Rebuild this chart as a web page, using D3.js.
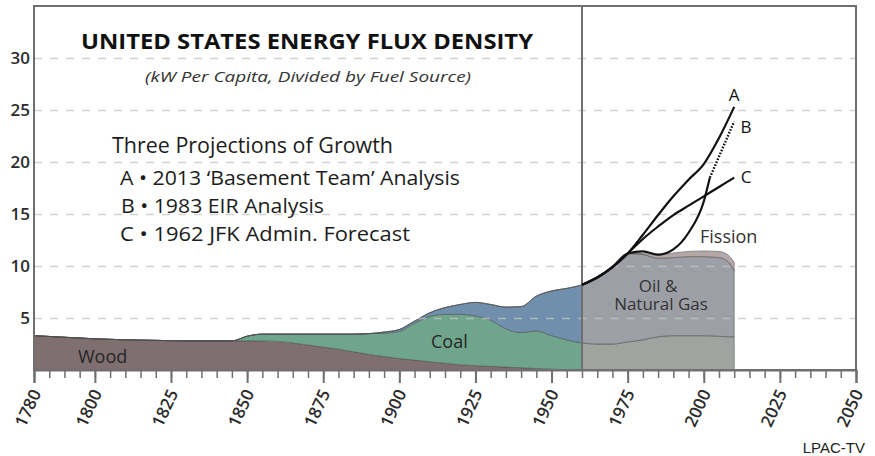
<!DOCTYPE html>
<html>
<head>
<meta charset="utf-8">
<script src="https://cdn.jsdelivr.net/npm/d3@7"></script>
<style>
body { margin: 0; background: #fff; }
svg { display: block; font-family: "Open Sans", "Noto Sans", sans-serif; }
</style>
</head>
<body>
<div id="chart"></div>
<script>
// values (kW per capita, layer thickness)
var years = [1780, 1790, 1800, 1810, 1820, 1830, 1840,
  1845, 1850, 1855, 1860, 1865, 1870, 1875, 1880, 1885, 1890, 1895, 1900,
  1905, 1910, 1915, 1920, 1925, 1930, 1935, 1940, 1945, 1950, 1955, 1960,
  1965, 1970, 1975, 1980, 1985, 1990, 1995, 2000, 2005, 2008, 2010];
var wood = [3.3, 3.15, 3.0, 2.9, 2.85, 2.8, 2.8,
  2.8, 2.8, 2.8, 2.75, 2.6, 2.4, 2.2, 2.0, 1.75, 1.5, 1.3, 1.1,
  0.95, 0.8, 0.65, 0.5, 0.42, 0.35, 0.28, 0.22, 0.15, 0.08, 0.03, 0,
  0, 0, 0, 0, 0, 0, 0, 0, 0, 0, 0];
var coal = [0, 0, 0, 0, 0, 0, 0,
  0, 0.45, 0.65, 0.7, 0.85, 1.05, 1.25, 1.45, 1.7, 2.0, 2.25, 2.6,
  3.55, 4.35, 4.7, 4.85, 4.78, 4.45, 3.67, 3.38, 3.6, 3.22, 2.87, 2.6,
  2.5, 2.5, 2.7, 2.9, 3.2, 3.3, 3.3, 3.3, 3.25, 3.2, 3.2];
var oilGas = [0, 0, 0, 0, 0, 0, 0,
  0, 0, 0, 0, 0, 0, 0, 0, 0, 0, 0.1, 0.2,
  0.2, 0.35, 0.65, 0.95, 1.3, 1.5, 2.1, 2.5, 3.35, 4.3, 4.95, 5.6,
  6.4, 7.4, 8.5, 8.2, 7.55, 7.5, 7.6, 7.6, 7.55, 7.2, 6.3];
var fission = [0, 0, 0, 0, 0, 0, 0,
  0, 0, 0, 0, 0, 0, 0, 0, 0, 0, 0, 0,
  0, 0, 0, 0, 0, 0, 0, 0, 0, 0, 0, 0,
  0, 0, 0, 0.1, 0.3, 0.45, 0.5, 0.55, 0.6, 0.65, 0.85];

// growth projections
var projYears = [1960, 1965, 1970, 1975, 1980, 1985, 1990, 1995, 2000, 2005, 2010];
var projA = [8.2, 8.9, 9.9, 11.2, 13.0, 14.9, 16.7, 18.3, 19.8, 22.3, 25.3];
var projC = [8.2, 8.9, 9.9, 11.2, 12.6, 13.8, 14.9, 15.8, 16.7, 17.6, 18.5];
var projBYears = [1960, 1965, 1970, 1975, 1980, 1985, 1990, 1995, 2000, 2002];
var projB = [8.2, 8.9, 9.9, 11.2, 11.4, 11.1, 11.6, 13.2, 16.2, 18.5];
var projBDotYears = [2002, 2010];
var projBDot = [18.5, 23.9];

var yTicks = [5, 10, 15, 20, 25, 30];
var xMajor = [1780, 1800, 1825, 1850, 1875, 1900, 1925, 1950, 1975, 2000, 2025, 2050];
var xMinor = d3.range(1780, 2051, 5);

var keys = ["wood", "coal", "oilGas", "fission"];
var colorsBefore = { wood: "#806f71", coal: "#70a58d", oilGas: "#6f8fad", fission: "#6f8fad" };
var colorsAfter = { wood: "#9fa3a0", coal: "#9fa4a0", oilGas: "#9c9fa6", fission: "#b4a7a8" };

var width = 875, height = 456;
var plotL = 34, plotR = 856, plotT = 6, plotB = 370;
var splitYear = 1960;

var table = years.map(function(yr, i) {
  return { year: yr, wood: wood[i], coal: coal[i], oilGas: oilGas[i], fission: fission[i] };
});

var x = d3.scaleLinear().domain([1780, 2050]).range([plotL, plotR]);
var y = d3.scaleLinear().domain([0, 35]).range([plotB, plotT]);

var svg = d3.select("#chart")
  .append("svg")
  .attr("width", width)
  .attr("height", height);

var defs = svg.append("defs");
defs.append("clipPath").attr("id", "before")
  .append("rect")
  .attr("x", plotL).attr("y", plotT)
  .attr("width", x(splitYear) - plotL).attr("height", plotB - plotT);
defs.append("clipPath").attr("id", "after")
  .append("rect")
  .attr("x", x(splitYear)).attr("y", plotT)
  .attr("width", plotR - x(splitYear)).attr("height", plotB - plotT);

var series = d3.stack().keys(keys)(table);

var area = d3.area()
  .curve(d3.curveMonotoneX)
  .x(function(d) { return x(d.data.year); })
  .y0(function(d) { return y(d[0]); })
  .y1(function(d) { return y(d[1]); });

function drawLayers(clipId, colors, rows) {
  var g = svg.append("g").attr("clip-path", "url(#" + clipId + ")");
  g.selectAll("path")
    .data(series)
    .join("path")
    .attr("d", function(s) {
      return area(s.filter(function(d) { return rows(d.data.year); }));
    })
    .attr("fill", function(s) { return colors[s.key]; })
    .attr("stroke", "#4f4f4f")
    .attr("stroke-opacity", 0.55)
    .attr("stroke-width", 1);
}
drawLayers("before", colorsBefore, function(yr) { return yr <= splitYear + 5; });
drawLayers("after", colorsAfter, function(yr) { return yr >= splitYear; });

// dashed gridlines
var grid = svg.append("g")
  .attr("transform", "translate(" + plotL + ",0)")
  .call(d3.axisLeft(y).tickValues(yTicks).tickSize(-(plotR - plotL)).tickFormat(""));
grid.select(".domain").remove();
grid.selectAll("line")
  .attr("stroke", "#c4c4c4")
  .attr("stroke-opacity", 0.75)
  .attr("stroke-width", 1.5)
  .attr("stroke-dasharray", "8,8");

// y labels
var yAxis = svg.append("g")
  .attr("transform", "translate(" + plotL + ",0)")
  .call(d3.axisLeft(y).tickValues(yTicks).tickSize(0).tickPadding(4));
yAxis.select(".domain").remove();
yAxis.selectAll("text")
  .attr("font-family", "Open Sans")
  .attr("font-size", 17)
  .attr("font-weight", 600)
  .attr("fill", "#2b2b2b");

// x axis: minor and major ticks
var xMinorAxis = svg.append("g")
  .attr("transform", "translate(0," + plotB + ")")
  .call(d3.axisBottom(x).tickValues(xMinor).tickSize(8).tickFormat(""));
xMinorAxis.select(".domain").remove();
xMinorAxis.selectAll("line").attr("stroke", "#6f6f6f").attr("stroke-width", 1.5);

var xAxis = svg.append("g")
  .attr("transform", "translate(0," + plotB + ")")
  .call(d3.axisBottom(x).tickValues(xMajor).tickSize(13).tickFormat(d3.format("d")));
xAxis.select(".domain").attr("stroke", "#6f6f6f").attr("stroke-width", 2);
xAxis.selectAll("line").attr("stroke", "#6f6f6f").attr("stroke-width", 2);
xAxis.selectAll("text")
  .attr("font-family", "Open Sans")
  .attr("font-size", 17)
  .attr("font-weight", 600)
  .attr("fill", "#2b2b2b")
  .attr("text-anchor", "end")
  .attr("x", 0).attr("y", 0).attr("dy", 0)
  .attr("transform", "translate(7,23) rotate(-65)");

// frame and 1960 divider
svg.append("rect")
  .attr("x", plotL).attr("y", plotT)
  .attr("width", plotR - plotL).attr("height", plotB - plotT)
  .attr("fill", "none")
  .attr("stroke", "#6f6f6f")
  .attr("stroke-width", 2);
svg.append("line")
  .attr("x1", x(splitYear)).attr("x2", x(splitYear))
  .attr("y1", plotT).attr("y2", plotB)
  .attr("stroke", "#6f6f6f")
  .attr("stroke-width", 2);

// projection lines
function pts(xs, vs) {
  return xs.map(function(yr, i) { return [yr, vs[i]]; });
}
var line = d3.line()
  .curve(d3.curveMonotoneX)
  .x(function(d) { return x(d[0]); })
  .y(function(d) { return y(d[1]); });

[pts(projYears, projA), pts(projYears, projC), pts(projBYears, projB)].forEach(function(p) {
  svg.append("path")
    .attr("d", line(p))
    .attr("fill", "none")
    .attr("stroke", "#111")
    .attr("stroke-width", 2.2);
});
svg.append("path")
  .attr("d", line(pts(projBDotYears, projBDot)))
  .attr("fill", "none")
  .attr("stroke", "#111")
  .attr("stroke-width", 2.4)
  .attr("stroke-dasharray", "1.6,1.6");

function label(txt, px, py, size, opts) {
  opts = opts || {};
  var t = svg.append("text")
    .attr("x", px).attr("y", py)
    .attr("font-size", size)
    .attr("fill", opts.fill || "#2b2b2b")
    .attr("text-anchor", opts.anchor || "start")
    .text(txt);
  if (opts.weight) t.attr("font-weight", opts.weight);
  if (opts.style) t.attr("font-style", opts.style);
  if (opts.family) t.attr("font-family", opts.family);
  if (opts.len) t.attr("textLength", opts.len).attr("lengthAdjust", "spacingAndGlyphs");
  return t;
}

label("A", 734, 101, 17, { anchor: "middle", fill: "#111" });
label("B", 746, 133, 17, { anchor: "middle", fill: "#111" });
label("C", 746, 183, 17, { anchor: "middle", fill: "#111" });

label("UNITED STATES ENERGY FLUX DENSITY", 81, 48.5, 22, { weight: "bold", fill: "#111", len: 452 });
label("(kW Per Capita, Divided by Fuel Source)", 145, 82, 15, { style: "italic", fill: "#333", len: 326 });
label("Three Projections of Growth", 112, 153, 21, { fill: "#1c1c1c", len: 281 });
label("A \u2022 2013 \u2018Basement Team\u2019 Analysis", 120, 184.5, 19.5, { fill: "#1c1c1c", len: 340 });
label("B \u2022 1983 EIR Analysis", 121, 213, 19.5, { fill: "#1c1c1c", len: 203 });
label("C \u2022 1962 JFK Admin. Forecast", 120, 241, 19.5, { fill: "#1c1c1c", len: 290 });

label("Wood", 78, 363, 18, { fill: "#262626" });
label("Coal", 431, 348, 18, { fill: "#262626" });
label("Oil &", 658, 292, 17, { anchor: "middle", fill: "#333" });
label("Natural Gas", 661, 310, 17, { anchor: "middle", fill: "#333" });
label("Fission", 700, 243, 18, { fill: "#333" });

label("LPAC-TV", 865, 453, 15, { anchor: "end", fill: "#222", family: "Liberation Sans" });
</script>
</body>
</html>
